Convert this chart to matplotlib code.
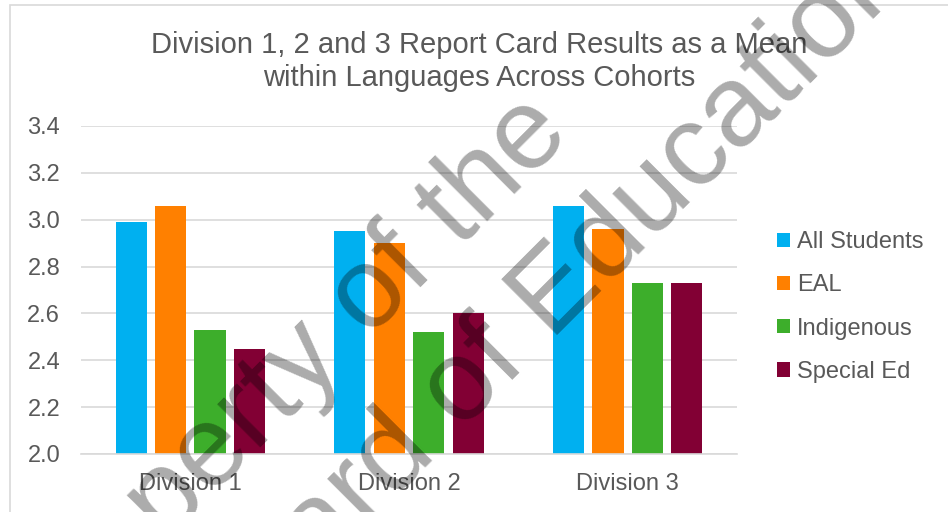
import matplotlib.pyplot as plt
import numpy as np
from matplotlib.patches import Rectangle

plt.rcParams['font.family'] = ['Liberation Sans', 'DejaVu Sans']

# Report card means
divisions = ['Division 1', 'Division 2', 'Division 3']
groups = ['All Students', 'EAL', 'Indigenous', 'Special Ed']
all_students = [2.99, 2.95, 3.06]
eal = [3.06, 2.90, 2.96]
indigenous = [2.53, 2.52, 2.73]
special_ed = [2.45, 2.60, 2.73]
yticks = [2.0, 2.2, 2.4, 2.6, 2.8, 3.0, 3.2, 3.4]

colors = ['#00B0F0', '#FF8000', '#3DAE2B', '#820034']
text_col = '#595959'
grid_col = '#D9D9D9'

W, H = 948, 512
fig = plt.figure(figsize=(W / 100, H / 100), dpi=100)

# chart area border (runs off the right and bottom of the picture)
fig.patches.append(Rectangle((10 / W, -0.1), 1.2, 1 - 5 / H + 0.1, transform=fig.transFigure,
                             fill=False, edgecolor=grid_col, lw=1.2))

ax = fig.add_axes([81 / W, 1 - 454 / H, (737 - 81) / W, (454 - 126) / H])

x = np.arange(len(divisions))
step = 0.18
width = 0.142
series = [all_students, eal, indigenous, special_ed]
for i, (vals, lab) in enumerate(zip(series, groups)):
    ax.bar(x + (i - 1.5) * step, vals, width=width, color=colors[i], label=lab, zorder=2)

ax.set_xlim(-0.5, len(divisions) - 0.5)
ax.set_ylim(2.0, 3.4)
ax.set_yticks(yticks)
ax.set_yticklabels(['%.1f' % v for v in yticks])
ax.set_xticks(x)
ax.set_xticklabels(divisions)
ax.tick_params(axis='y', length=0, pad=15, labelsize=17, labelcolor=text_col)
ax.tick_params(axis='x', length=0, pad=14, labelsize=17, labelcolor=text_col)
ax.grid(axis='y', color=grid_col, lw=1.2, zorder=0)
for s in ['top', 'right', 'left']:
    ax.spines[s].set_visible(False)
ax.spines['bottom'].set_color(grid_col)
ax.spines['bottom'].set_linewidth(1.2)

fig.text(479 / W, 1 - 53 / H, 'Division 1, 2 and 3 Report Card Results as a Mean',
         ha='center', va='baseline', fontsize=21, color=text_col)
fig.text(479 / W, 1 - 86 / H, 'within Languages Across Cohorts',
         ha='center', va='baseline', fontsize=21, color=text_col)

fig.legend(loc='center left', bbox_to_anchor=(777 / W, 1 - 307 / H), frameon=False,
           fontsize=17, labelcolor=text_col, handlelength=0.55, handleheight=0.55,
           handletextpad=0.3, labelspacing=0.9, borderpad=0, borderaxespad=0)

# watermark
fig.text(38 / W, 1 - 670 / H, 'Property of the', rotation=45, rotation_mode='anchor',
         ha='left', va='baseline', fontsize=83, color='black', alpha=0.33, zorder=10)
fig.text(220 / W, 1 - 672 / H, 'Board of Education', rotation=45, rotation_mode='anchor',
         ha='left', va='baseline', fontsize=83, color='black', alpha=0.33, zorder=10)

fig.savefig('out.png', dpi=100)
